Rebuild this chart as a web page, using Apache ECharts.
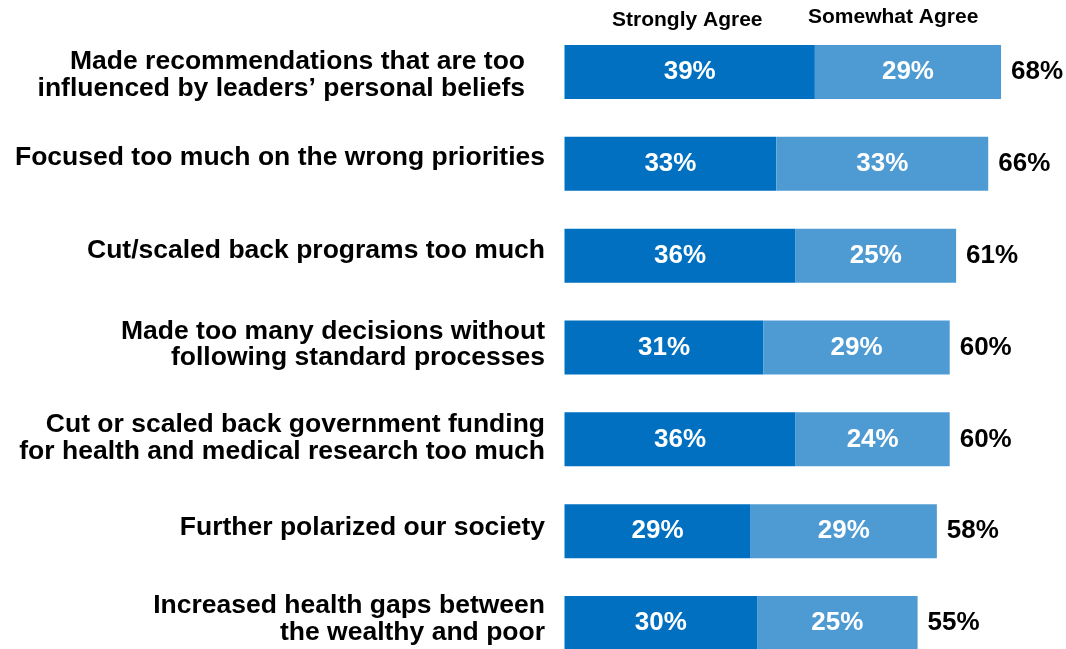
<!DOCTYPE html>
<html>
<head>
<meta charset="utf-8">
<script src="https://cdn.jsdelivr.net/npm/echarts@6/dist/echarts.min.js"></script>
<style>
  html, body { margin: 0; padding: 0; background: #fff; overflow: hidden; }
  #chart { width: 1066px; height: 649px; }
</style>
</head>
<body>
<div id="chart"></div>
<script>
const categories = [
  'Made recommendations that are too\ninfluenced by leaders\u2019 personal beliefs',
  'Focused too much on the wrong priorities',
  'Cut/scaled back programs too much',
  'Made too many decisions without\nfollowing standard processes',
  'Cut or scaled back government funding\nfor health and medical research too much',
  'Further polarized our society',
  'Increased health gaps between\nthe wealthy and poor'
];
const stronglyAgree = [39, 33, 36, 31, 36, 29, 30];
const somewhatAgree = [29, 33, 25, 29, 24, 29, 25];
const totals = stronglyAgree.map((v, i) => v + somewhatAgree[i]);
const seriesNames = ['Strongly Agree', 'Somewhat Agree'];

const FONT = '"Liberation Sans", Arial, sans-serif';
const DARK = '#0170C0';
const LIGHT = '#4E9BD4';

// vertical nudge of each category label in px (positive = down)
const labelShift = [3, -6, -5, -3, -1, -3, -4];

function categoryLabel(value, index) {
  const body = value.split('\n').map(l => '{t|' + l + '}').join('\n');
  const d = labelShift[index] || 0;
  if (d > 0) return '{s' + (2 * d) + '| }\n' + body;
  if (d < 0) return body + '\n{s' + (-2 * d) + '| }';
  return body;
}

const rich = {
  t: { fontFamily: FONT, fontWeight: 'bold', fontSize: 26.5, lineHeight: 26.5, color: '#000', align: 'right' }
};
labelShift.forEach(d => {
  const h = Math.abs(2 * d);
  if (h) rich['s' + h] = { fontSize: 1, lineHeight: h, align: 'right' };
});

const chart = echarts.init(document.getElementById('chart'), null, { renderer: 'canvas' });

const inside = {
  show: true,
  position: 'inside',
  color: '#fff',
  fontFamily: FONT,
  fontWeight: 'bold',
  fontSize: 26,
  formatter: p => p.value + '%'
};

chart.setOption({
  animation: false,
  grid: {
    left: 564.5, width: 449.4, top: 26.1, height: 642.8,
    containLabel: false, outerBoundsMode: 'none'
  },
  xAxis: {
    type: 'value', min: 0, max: 70, show: false
  },
  yAxis: {
    type: 'category',
    inverse: true,
    data: categories.map((c, i) => i === 0
      ? { value: c, textStyle: { padding: [0, 20, 0, 0] } }
      : c),
    axisLine: { show: false },
    axisTick: { show: false },
    axisLabel: {
      margin: 19.5,
      color: '#000',
      fontFamily: FONT,
      fontWeight: 'bold',
      fontSize: 26.5,
      lineHeight: 26.5,
      align: 'right',
      formatter: categoryLabel,
      rich: rich
    }
  },
  graphic: [
    { type: 'text', left: 612, top: 10, style: { text: seriesNames[0], fontFamily: FONT, fontWeight: 'bold', fontSize: 21, fill: '#000' } },
    { type: 'text', left: 808, top: 7, style: { text: seriesNames[1], fontFamily: FONT, fontWeight: 'bold', fontSize: 21, fill: '#000' } }
  ],
  series: [
    {
      name: seriesNames[0], type: 'bar', stack: 'agree', barWidth: 54,
      itemStyle: { color: DARK }, label: inside, data: stronglyAgree
    },
    {
      name: seriesNames[1], type: 'bar', stack: 'agree', barWidth: 54,
      itemStyle: { color: LIGHT }, label: inside, data: somewhatAgree
    },
    {
      name: 'Total', type: 'bar', stack: 'agree', barWidth: 54,
      itemStyle: { color: 'transparent' },
      label: {
        show: true, position: 'right', distance: 10,
        color: '#000', fontFamily: FONT, fontWeight: 'bold', fontSize: 26,
        formatter: p => totals[p.dataIndex] + '%'
      },
      data: totals.map(() => 0)
    }
  ]
});
</script>
</body>
</html>
